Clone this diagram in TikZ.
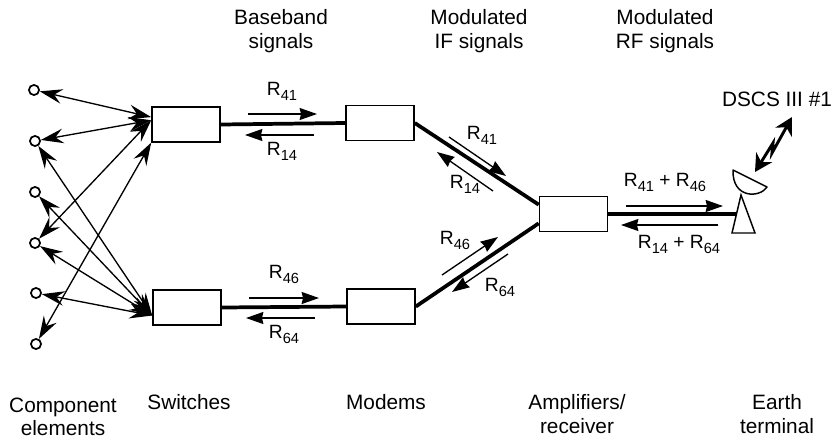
\documentclass[tikz,border=0pt]{standalone}
\usepackage{fontspec}
\setmainfont{Liberation Sans}
\usetikzlibrary{arrows.meta}
\newcommand{\Rsub}[1]{R\raisebox{-0.5ex}{\fontsize{11}{12}\selectfont #1}}
\tikzset{
  x=0.75pt,y=-0.75pt,
  txt/.style={font=\fontsize{15.6}{17.6}\selectfont,inner sep=0pt,align=center},
  rate/.style={font=\fontsize{14.4}{16}\selectfont,inner sep=0pt},
  blk/.style={draw,line width=1.2pt,minimum width=51pt,minimum height=26pt,inner sep=0pt,fill=white},
  term/.style={circle,draw,line width=1.3pt,minimum size=7.6pt,inner sep=0pt},
  fan/.style={line width=1pt,{Stealth[length=17pt,width=11pt,inset=6pt]}-{Stealth[length=17pt,width=11pt,inset=6pt]}},
  trunk/.style={line width=2.8pt},
  flow/.style={line width=1pt,-{Stealth[length=13pt,width=9pt,inset=1pt]}}
}
\begin{document}
\begin{tikzpicture}
\useasboundingbox (0,0) rectangle (832,440);
% nodes
\node[term] (c1) at (34,90) {};
\node[term] (c2) at (35,141) {};
\node[term] (c3) at (35,192) {};
\node[term] (c4) at (35,243) {};
\node[term] (c5) at (36,293) {};
\node[term] (c6) at (36,344) {};
\node[blk] (sw1) at (186,124.5) {};
\node[blk] (sw2) at (187,307.5) {};
\node[blk] (mo1) at (380,123) {};
\node[blk] (mo2) at (381,306.5) {};
\node[blk] (amp) at (573.5,214) {};
% fan connectors
\draw[fan] (c1) -- (sw1.168);
\draw[fan] (c2) -- (sw1.173);
\draw[fan] (c4) -- (sw1.173);
\draw[fan] (c6) -- (sw1.south west);
\draw[fan] (c2) -- (sw2.193);
\draw[fan] (c3) -- (sw2.193);
\draw[fan] (c4) -- (sw2.193);
\draw[fan] (c5) -- (sw2.193);
% trunks
\draw[trunk] (sw1.east) -- (mo1.west);
\draw[trunk] (sw2.east) -- (mo2.west);
\draw[trunk] (mo1.east) -- (amp.165);
\draw[trunk] (mo2.east) -- (amp.195);
% antenna
\coordinate (ap) at (741,195);
\coordinate (bl) at (732,233);
\coordinate (br) at (755,233);
\draw[trunk] (amp.east) -- (738,214);
\draw[line width=1.1pt,fill=white] (ap) -- (bl) -- (br) -- cycle;
\draw[line width=1.1pt,fill=white,line join=round] (733,170) -- (767,187) .. controls (760,198) and (732,199) .. (733,170) -- cycle;
% link
\coordinate (l1) at (755,172);
\coordinate (l2) at (792,117);
\draw[line width=2.2pt,{Stealth[length=13pt,width=14pt]}-{Stealth[length=13pt,width=14pt]}] (l1) -- (773,143) -- (772,153) -- (l2);
% flow arrows
\coordinate (a1) at (248,114); \coordinate (a2) at (317,114);
\coordinate (a3) at (314,135); \coordinate (a4) at (245,135);
\coordinate (a5) at (249,298); \coordinate (a6) at (319,298);
\coordinate (a7) at (315,318); \coordinate (a8) at (246,318);
\coordinate (d1) at (449,137); \coordinate (d2) at (506,176);
\coordinate (d3) at (493,191); \coordinate (d4) at (437,152);
\coordinate (d5) at (442,275); \coordinate (d6) at (498,237);
\coordinate (d7) at (508,254); \coordinate (d8) at (452,292);
\coordinate (e1) at (626,206); \coordinate (e2) at (723,206);
\coordinate (e3) at (718,225); \coordinate (e4) at (621,225);
\foreach \p/\q in {a1/a2,a3/a4,a5/a6,a7/a8,d1/d2,d3/d4,d5/d6,d7/d8,e1/e2,e3/e4}
  \draw[flow] (\p) -- (\q);
% rate labels
\node[rate] (r1) at (282,91) {\Rsub{41}};
\node[rate] (r2) at (282,151) {\Rsub{14}};
\node[rate] (r3) at (284,274) {\Rsub{46}};
\node[rate] (r4) at (284,334) {\Rsub{64}};
\node[rate] (r5) at (482,135) {\Rsub{41}};
\node[rate] (r6) at (465,184) {\Rsub{14}};
\node[rate] (r7) at (455,240) {\Rsub{46}};
\node[rate] (r8) at (500,287) {\Rsub{64}};
\node[rate] (r9) at (665,182) {\Rsub{41} + \Rsub{46}};
\node[rate] (r10) at (679,244) {\Rsub{14} + \Rsub{64}};
% captions
\node[txt] (t1) at (281,31) {Baseband\\signals};
\node[txt] (t2) at (479,31) {Modulated\\IF signals};
\node[txt] (t3) at (665,31) {Modulated\\RF signals};
\node[txt] (t4) at (777,99) {DSCS III \#1};
\node[txt] (t5) at (63,417) {Component\\elements};
\node[txt] (t6) at (189,402) {Switches};
\node[txt] (t7) at (386,402) {Modems};
\node[txt] (t8) at (577,414) {Amplifiers/\\receiver};
\node[txt] (t9) at (777,414) {Earth\\terminal};
\end{tikzpicture}
\end{document}
